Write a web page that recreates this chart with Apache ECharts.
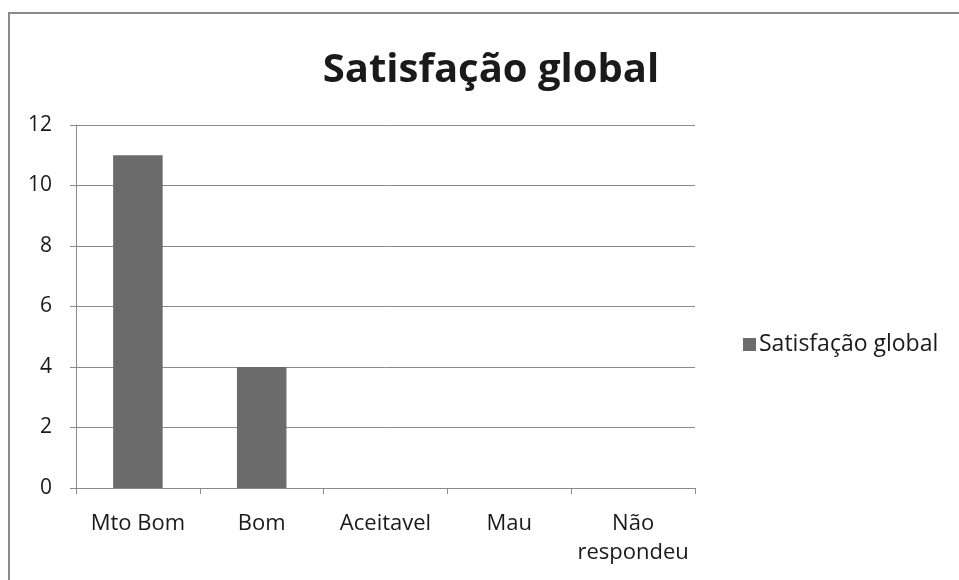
<!DOCTYPE html>
<html>
<head>
<meta charset="utf-8">
<script src="https://cdn.jsdelivr.net/npm/echarts@6/dist/echarts.min.js"></script>
<style>
  html, body { margin: 0; padding: 0; background: #fff; }
  #chart { width: 959px; height: 580px; }
</style>
</head>
<body>
<div id="chart"></div>
<script>
// Survey answers and how many respondents gave each one
const categories = ['Mto Bom', 'Bom', 'Aceitavel', 'Mau', 'Não\nrespondeu'];
const satisfacao = [11, 4, 0, 0, 0];
const seriesName = 'Satisfação global';
const yTicks = { min: 0, max: 12, interval: 2 };

const font = 'Open Sans';
const chart = echarts.init(document.getElementById('chart'));
chart.setOption({
  backgroundColor: '#ffffff',
  animation: false,
  graphic: [{
    type: 'rect',
    shape: { x: 9, y: 13, width: 980, height: 600 },
    style: { fill: 'none', stroke: '#8a8a8a', lineWidth: 2 },
    silent: true
  }],
  title: {
    text: 'Satisfação global',
    left: 486,
    top: 46,
    textAlign: 'center',
    textStyle: { fontFamily: font, fontWeight: 'bold', fontSize: 40, color: '#1a1a1a' }
  },
  legend: {
    data: [seriesName],
    left: 738,
    top: 328,
    icon: 'rect',
    itemWidth: 13,
    itemHeight: 13,
    itemGap: 6,
    textStyle: { fontFamily: font, fontSize: 23, color: '#1a1a1a', padding: [0, 0, 0, -2] }
  },
  grid: { left: 76, top: 125, width: 619, height: 363, containLabel: false },
  xAxis: {
    type: 'category',
    data: categories,
    axisLine: { show: true, lineStyle: { color: '#8a8a8a', width: 1 } },
    axisTick: { show: true, length: 6, alignWithLabel: false, lineStyle: { color: '#8a8a8a' } },
    axisLabel: { fontFamily: font, fontSize: 22, color: '#1a1a1a', margin: 21, lineHeight: 29, interval: 0 }
  },
  yAxis: {
    type: 'value',
    min: yTicks.min,
    max: yTicks.max,
    interval: yTicks.interval,
    axisLine: { show: true, lineStyle: { color: '#8a8a8a', width: 1 } },
    axisTick: { show: true, length: 6, lineStyle: { color: '#8a8a8a' } },
    axisLabel: { fontFamily: font, fontSize: 21, color: '#1a1a1a', margin: 24 },
    splitLine: { show: true, lineStyle: { color: '#8a8a8a', width: 1 } }
  },
  series: [{
    name: seriesName,
    type: 'bar',
    data: satisfacao,
    barWidth: '40%',
    itemStyle: { color: '#6b6b6b' }
  }]
});
</script>
</body>
</html>
